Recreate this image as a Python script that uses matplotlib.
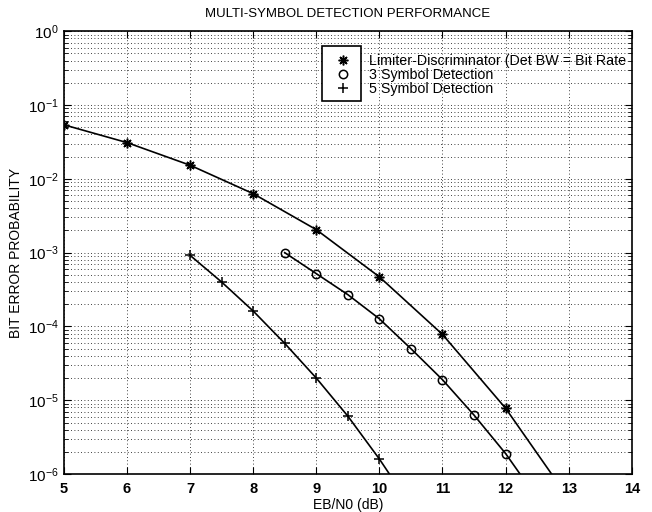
import matplotlib
matplotlib.use("Agg")
import matplotlib.pyplot as plt
from matplotlib.patches import Rectangle
from matplotlib.lines import Line2D

plt.rcParams["font.family"] = ["Liberation Sans", "DejaVu Sans"]
plt.rcParams["mathtext.default"] = "regular"

# Limiter-Discriminator (Det BW = Bit Rate)
ld_x = [5, 6, 7, 8, 9, 10, 11, 12]
ld_y = [5.4e-2, 3.1e-2, 1.53e-2, 6.3e-3, 2.05e-3, 4.7e-4, 7.8e-5, 7.8e-6]
ld_end = (12.73, 1e-6)

# 3 Symbol Detection
s3_x = [8.5, 9, 9.5, 10, 10.5, 11, 11.5, 12]
s3_y = [1.0e-3, 5.2e-4, 2.7e-4, 1.27e-4, 5.0e-5, 1.9e-5, 6.3e-6, 1.9e-6]
s3_end = (12.23, 1e-6)

# 5 Symbol Detection
s5_x = [7, 7.5, 8, 8.5, 9, 9.5, 10]
s5_y = [9.2e-4, 4.0e-4, 1.62e-4, 5.9e-5, 2.0e-5, 6.1e-6, 1.6e-6]
s5_end = (10.16, 1e-6)

labels = ["Limiter-Discriminator (Det BW = Bit Rate",
          "3 Symbol Detection",
          "5 Symbol Detection"]

fig = plt.figure(figsize=(6.52, 5.12), dpi=100)
ax = fig.add_axes([0.098, 0.074, 0.871, 0.865])

asterisk = (8, 2, 0)
series = [(ld_x, ld_y, ld_end, asterisk, 7),
          (s3_x, s3_y, s3_end, "o", 6),
          (s5_x, s5_y, s5_end, "+", 7)]
for xs, ys, end, mk, ms in series:
    ax.plot(xs + [end[0]], ys + [end[1]], color="black", linewidth=1.2,
            marker=mk, markersize=ms, markevery=list(range(len(xs))),
            markerfacecolor="none", markeredgecolor="black", markeredgewidth=1.1)

ax.set_yscale("log")
ax.set_xlim(5, 14)
ax.set_ylim(1e-6, 1)
ax.set_xticks(range(5, 15))

ax.grid(True, which="major", linestyle=(0, (1, 3)), color="black", linewidth=0.6)
ax.grid(True, which="minor", axis="y", linestyle=(0, (1, 3)), color="black", linewidth=0.6)
ax.tick_params(which="both", direction="in", top=True, right=True)
ax.tick_params(axis="y", labelsize=11)
ax.tick_params(axis="x", labelsize=10.5, pad=6)
for t in ax.get_xticklabels():
    t.set_fontweight("bold")
ax.tick_params(which="major", length=5)
ax.tick_params(which="minor", length=3)
for s in ax.spines.values():
    s.set_linewidth(1.2)

ax.set_title("MULTI-SYMBOL DETECTION PERFORMANCE", fontsize=9.5, pad=10)
ax.set_xlabel("EB/N0 (dB)", fontsize=10, labelpad=1)
ax.set_ylabel("BIT ERROR PROBABILITY", fontsize=10, labelpad=4)

# legend: box around markers only, text running past it (as in the print)
ax.add_patch(Rectangle((0.454, 0.842), 0.069, 0.124, transform=ax.transAxes,
                       facecolor="white", edgecolor="black", linewidth=1.2, zorder=4))
handles = [Line2D([], [], linestyle="none", marker=m, markersize=ms, color="black",
                  markerfacecolor="none", markeredgewidth=1.1)
           for _, _, _, m, ms in series]
leg = ax.legend(handles, labels, loc="upper left", bbox_to_anchor=(0.462, 0.972),
                frameon=False, fontsize=10.3, labelspacing=0.0, handlelength=1.0,
                handletextpad=1.3, borderpad=0.2)
leg.set_zorder(5)

fig.savefig("out.png", dpi=100)
